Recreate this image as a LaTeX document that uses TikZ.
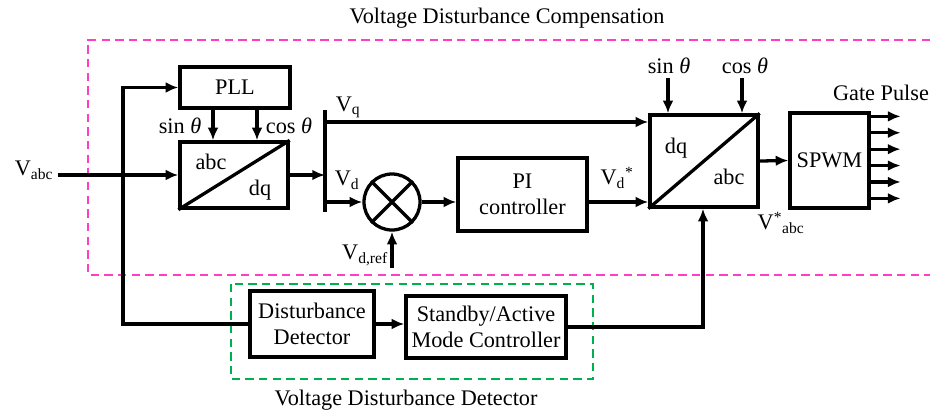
\documentclass[tikz,border=0pt]{standalone}
\usepackage{fontspec}
\setmainfont{Liberation Serif}
\usetikzlibrary{arrows.meta}
\definecolor{compink}{HTML}{FF3EC8}
\definecolor{detgreen}{HTML}{00B050}

\begin{document}
\begin{tikzpicture}[
    x=0.03cm, y=-0.03cm,
    font=\fontsize{19}{22.5}\selectfont,
    line width=2.8pt,
    blk/.style={draw, line width=2.8pt, inner sep=1pt, align=center},
    mul/.style={draw, circle, line width=2.8pt, minimum size=1.68cm, inner sep=0pt},
    arr/.style={-{Latex[length=3.8mm,width=3.2mm]}},
    lab/.style={inner sep=0pt},
    frame/.style={line width=2pt, dash pattern=on 0.25cm off 0.16cm}]
  \useasboundingbox (0,0) rectangle (930,412);
  % dashed groups
  \draw[frame, draw=compink] (930,40) -- (88,40) -- (88,275) -- (930,275);
  \draw[frame, draw=detgreen] (231,284) rectangle (593,379);
  \node[lab] (tcomp) at (507,18)  {Voltage Disturbance Compensation};
  \node[lab] (tdet)  at (406,400) {Voltage Disturbance Detector};
  % blocks
  \node[blk, minimum width=3.3cm,  minimum height=1.23cm] (PLL) at (235,87.5) {PLL};
  \node[blk, minimum width=3.24cm, minimum height=1.98cm] (ABC) at (234,175) {};
  \node[mul] (MUL) at (392,202) {};
  \node[blk, minimum width=3.87cm, minimum height=2.19cm] (PI)  at (522.5,194.5) {PI\\controller};
  \node[blk, minimum width=3.24cm, minimum height=2.76cm] (DQ)  at (704,161) {};
  \node[blk, minimum width=2.37cm, minimum height=2.85cm] (PWM) at (829.5,160.5) {SPWM};
  \node[blk, minimum width=3.72cm, minimum height=1.98cm] (DD)  at (312,324) {Disturbance\\Detector};
  \node[blk, minimum width=4.8cm,  minimum height=1.86cm] (SB)  at (486,327) {Standby/Active\\Mode Controller};
  \draw (ABC.south west) -- (ABC.north east);
  \draw (DQ.south west) -- (DQ.north east);
  \draw (MUL.north west) -- (MUL.south east) (MUL.north east) -- (MUL.south west);
  \node[lab] (abc1) at (211,162) {abc};
  \node[lab] (dq1)  at (260,190) {dq};
  \node[lab] (dq2)  at (676,148) {dq};
  \node[lab] (abc2) at (729,177) {abc};
  % signals
  \coordinate (in)  at (58,175);
  \coordinate (top) at (123,87.5);
  \coordinate (bot) at (123,324);
  \coordinate (bT)  at (325,110);
  \coordinate (bB)  at (325,212);
  \coordinate (q)   at (325,122);
  \coordinate (d)   at (325,202);
  \coordinate (ref) at (392,268);
  \coordinate (s2)  at (668,78);
  \coordinate (c2)  at (742,78);
  \coordinate (fb)  at (703,327);
  \draw[arr] (in) -- (ABC.west);
  \draw[arr] (DD.west) -- (bot) -- (top) -- (PLL.west);
  \draw[arr] ([xshift=-0.66cm]PLL.south) -- ([xshift=-0.66cm]PLL.south |- ABC.north);
  \draw[arr] ([xshift=0.66cm]PLL.south) -- ([xshift=0.66cm]PLL.south |- ABC.north);
  \draw (bT) -- (bB);
  \draw[arr] (ABC.east) -- (ABC.east -| bT);
  \draw[arr] (q) -- (q -| DQ.west);
  \draw[arr] (d) -- (MUL.west);
  \draw[arr] (MUL.east) -- (MUL.east -| PI.west);
  \draw[arr] (ref) -- (MUL.south);
  \draw[arr] (PI.east |- MUL.east) -- (DQ.west |- MUL.east);
  \draw[arr] (s2) -- (s2 |- DQ.north);
  \draw[arr] (c2) -- (c2 |- DQ.north);
  \draw[arr] (DQ.east) -- (PWM.west);
  \foreach \k in {0,...,5}
    \draw[arr] ([yshift=-0.15cm-\k*0.492cm]PWM.north east) -- ++(30,0);
  \draw[arr] (DD.east) -- (DD.east -| SB.west);
  \draw[arr] (SB.east) -- (fb) -- (fb |- DQ.south);
  % labels
  \node[lab] (Vabc) at (34,170)  {V\textsubscript{abc}};
  \node[lab] (sin1) at (180,126) {sin \textit{θ}};
  \node[lab] (cos1) at (289,126) {cos \textit{θ}};
  \node[lab] (Vq)   at (348,107) {V\textsubscript{q}};
  \node[lab] (Vd)   at (347,180) {V\textsubscript{d}};
  \node[lab] (Vref) at (365,255) {V\textsubscript{d,ref}};
  \node[lab] (Vds)  at (617,178) {V\textsubscript{d}\textsuperscript{*}};
  \node[lab] (sin2) at (669,66)  {sin \textit{θ}};
  \node[lab] (cos2) at (745,66)  {cos \textit{θ}};
  \node[lab] (gate) at (881,93)  {Gate Pulse};
  \node[lab] (Vout) at (781,223) {V\textsuperscript{*}\textsubscript{abc}};
\end{tikzpicture}
\end{document}
